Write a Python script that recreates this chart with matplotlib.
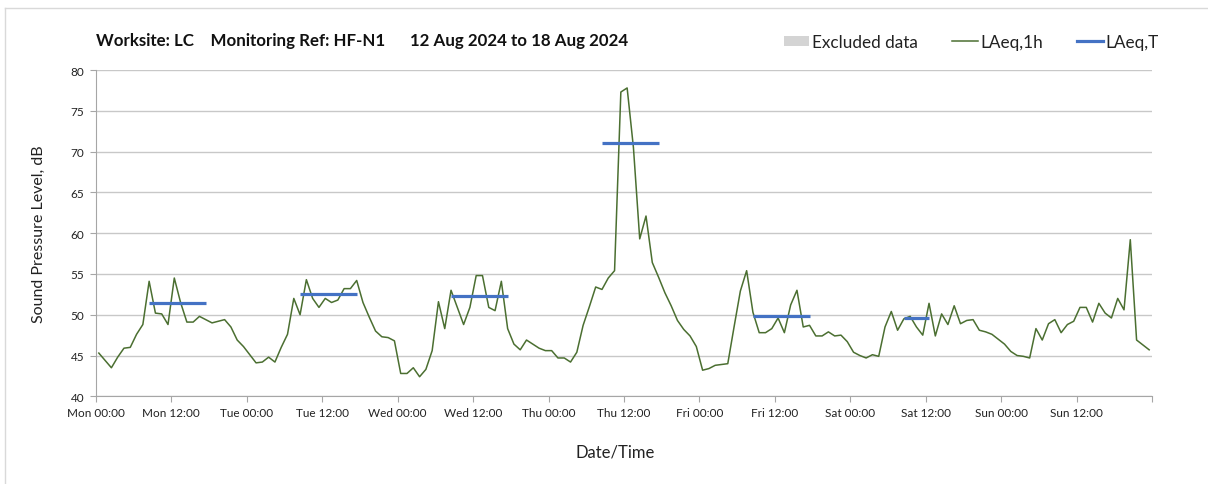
import matplotlib
matplotlib.use("Agg")
import matplotlib.pyplot as plt
from matplotlib.lines import Line2D
from matplotlib.patches import Patch
import numpy as np

plt.rcParams['font.family'] = ['Lato', 'DejaVu Sans']

# hourly LAeq,1h values, one list per day (00:00 - 23:00)
mon = [45.3, 44.4, 43.5, 44.8, 45.9, 46.0, 47.6, 48.8, 54.1, 50.2, 50.1, 48.8,
       54.5, 51.5, 49.1, 49.1, 49.8, 49.4, 49.0, 49.2, 49.4, 48.5, 46.9, 46.1]
tue = [45.1, 44.1, 44.2, 44.8, 44.2, 46.0, 47.6, 52.0, 50.0, 54.3, 52.0, 50.9,
       52.0, 51.5, 51.8, 53.2, 53.2, 54.2, 51.5, 49.7, 48.0, 47.3, 47.2, 46.8]
wed = [42.8, 42.8, 43.5, 42.4, 43.3, 45.6, 51.6, 48.3, 53.0, 50.9, 48.8, 50.9,
       54.8, 54.8, 50.9, 50.5, 54.1, 48.3, 46.4, 45.7, 46.9, 46.4, 45.9, 45.6]
thu = [45.6, 44.7, 44.7, 44.2, 45.4, 48.7, 51.0, 53.4, 53.1, 54.5, 55.4, 77.3,
       77.8, 70.5, 59.3, 62.1, 56.4, 54.6, 52.7, 51.1, 49.3, 48.2, 47.4, 46.1]
fri = [43.2, 43.4, 43.8, 43.9, 44.0, 48.5, 52.9, 55.4, 50.3, 47.8, 47.8, 48.3,
       49.6, 47.8, 51.2, 53.0, 48.5, 48.7, 47.4, 47.4, 47.9, 47.4, 47.5, 46.7]
sat = [45.4, 45.0, 44.7, 45.1, 44.9, 48.5, 50.4, 48.1, 49.5, 49.8, 48.5, 47.5,
       51.4, 47.4, 50.1, 48.8, 51.1, 48.9, 49.3, 49.4, 48.1, 47.9, 47.6, 47.0]
sun = [46.4, 45.5, 45.0, 44.9, 44.7, 48.3, 46.9, 48.9, 49.4, 47.8, 48.8, 49.2,
       50.9, 50.9, 49.1, 51.4, 50.2, 49.6, 52.0, 50.6, 59.2, 46.9, 46.3, 45.7]

# working period LAeq,T (first and last hour index of each period)
period_start = [8, 32, 56, 80, 104, 128]
period_end = [17, 41, 65, 89, 113, 132]
laeq_t = [51.4, 52.5, 52.3, 71.0, 49.8, 49.6]

days = ['Mon', 'Tue', 'Wed', 'Thu', 'Fri', 'Sat', 'Sun']
tick_labels = [f'{d} {t}' for d in days for t in ('00:00', '12:00')] + ['']

laeq_1h = np.array(mon + tue + wed + thu + fri + sat + sun)
hours = np.arange(len(laeq_1h)) + 0.5

fig = plt.figure(figsize=(12.08, 4.85), dpi=100)
ax = fig.add_axes([0.0792, 0.1808, 0.8747, 0.6728])

green = '#4B6F31'
blue = '#4472C4'

ax.plot(hours, laeq_1h, color=green, lw=1.1, zorder=3)
for s, e, v in zip(period_start, period_end, laeq_t):
    ax.plot([s + 0.5, e + 0.5], [v, v], color=blue, lw=2.3,
            solid_capstyle='butt', zorder=4)

ax.set_xlim(0, 168)
ax.set_ylim(40, 80)
ax.set_xticks(np.arange(0, 169, 12))
ax.set_xticklabels(tick_labels, fontsize=8.5)
ax.set_xticks(np.arange(0, 169, 24), minor=True)
ax.set_yticks(np.arange(40, 81, 5))
ax.set_yticklabels([str(v) for v in range(40, 81, 5)], fontsize=8.5)
ax.tick_params(axis='both', which='major', length=4, color='#A6A6A6',
               labelcolor='#222222', pad=4)
ax.tick_params(axis='x', which='minor', length=0)

ax.grid(axis='y', which='major', color='#C8C8C8', lw=1.0)
ax.grid(axis='x', which='minor', color='#DADADA', lw=1.0)
ax.set_axisbelow(True)

for side in ('top', 'right'):
    ax.spines[side].set_visible(False)
for side in ('left', 'bottom'):
    ax.spines[side].set_color('#A6A6A6')

ax.set_ylabel('Sound Pressure Level, dB', fontsize=11.5, color='#222222', labelpad=18)
fig.text(615 / 1208, 1 - 453 / 485, 'Date/Time', fontsize=12,
         color='#222222', ha='center', va='center')

fig.text(96 / 1208, 1 - 41 / 485,
         'Worksite: LC    Monitoring Ref: HF-N1      12 Aug 2024 to 18 Aug 2024',
         fontsize=12.2, fontweight='bold', color='#111111', ha='left', va='center')

handles = [Patch(facecolor='#D4D4D4', edgecolor='none'),
           Line2D([], [], color=green, lw=1.1),
           Line2D([], [], color=blue, lw=2.3)]
fig.legend(handles, ['Excluded data', 'LAeq,1h', 'LAeq,T'], loc='center right',
           bbox_to_anchor=(1174 / 1208, 1 - 43 / 485), ncol=3, frameon=False,
           fontsize=12.3, handlelength=1.5, handleheight=0.6, handletextpad=0.15,
           columnspacing=2.0, labelcolor='#222222')

# chart area frame (left and top edges)
fig.add_artist(Line2D([5 / 1208, 5 / 1208], [0, 1 - 9 / 485],
                      transform=fig.transFigure, color='#D9D9D9', lw=1))
fig.add_artist(Line2D([5 / 1208, 1], [1 - 9 / 485, 1 - 9 / 485],
                      transform=fig.transFigure, color='#D9D9D9', lw=1))

fig.savefig('out.png', dpi=100, facecolor='white')
